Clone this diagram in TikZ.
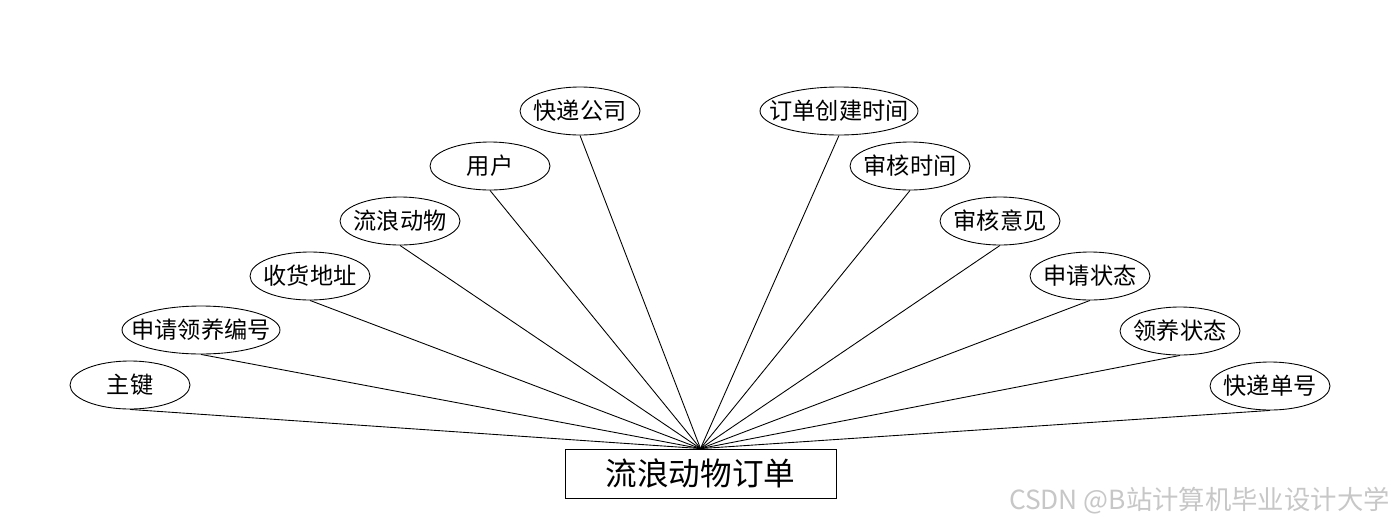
\documentclass[tikz,border=0pt]{standalone}
\usepackage{fontspec}
\newfontfamily\cjk{Noto Sans CJK SC}
\usetikzlibrary{shapes.geometric}
\begin{document}
\begin{tikzpicture}[x=0.02cm, y=-0.02cm, line width=0.5pt,
    attr/.style={draw, ellipse, inner sep=0pt, inner xsep=-0.1cm, minimum width=2.4cm, minimum height=0.96cm, font=\cjk\fontsize{13.2}{15}\selectfont},
    longattr/.style={attr, inner xsep=-0.28cm, minimum width=3.16cm},
    entity/.style={draw, rectangle, inner sep=0pt, minimum width=5.42cm, minimum height=0.98cm, font=\cjk\fontsize{18}{20}\selectfont}]
    \useasboundingbox (0,0) rectangle (1400,528);
    \node[entity] (order) at (700.5,473.5) {流浪动物订单};
    \node[attr] (key) at (130,385) {主键};
    \node[longattr] (appno) at (201,330) {申请领养编号};
    \node[attr] (addr) at (310,276) {收货地址};
    \node[attr] (animal) at (400,221) {流浪动物};
    \node[attr] (user) at (490,166) {用户};
    \node[attr] (company) at (580,111) {快递公司};
    \node[longattr] (ctime) at (839,111) {订单创建时间};
    \node[attr] (rtime) at (910,166) {审核时间};
    \node[attr] (opinion) at (1000,221) {审核意见};
    \node[attr] (appstate) at (1090,276) {申请状态};
    \node[attr] (adstate) at (1180,331) {领养状态};
    \node[attr] (trackno) at (1270,386) {快递单号};
    \foreach \a in {key, appno, addr, animal, user, company, ctime, rtime, opinion, appstate, adstate, trackno}
        \draw (\a.south) -- (order.north);
    \node[anchor=east, text=black!22, font=\cjk\fontsize{15}{17}\selectfont] (mark) at (1396,501) {CSDN @B站计算机毕业设计大学};
\end{tikzpicture}
\end{document}
